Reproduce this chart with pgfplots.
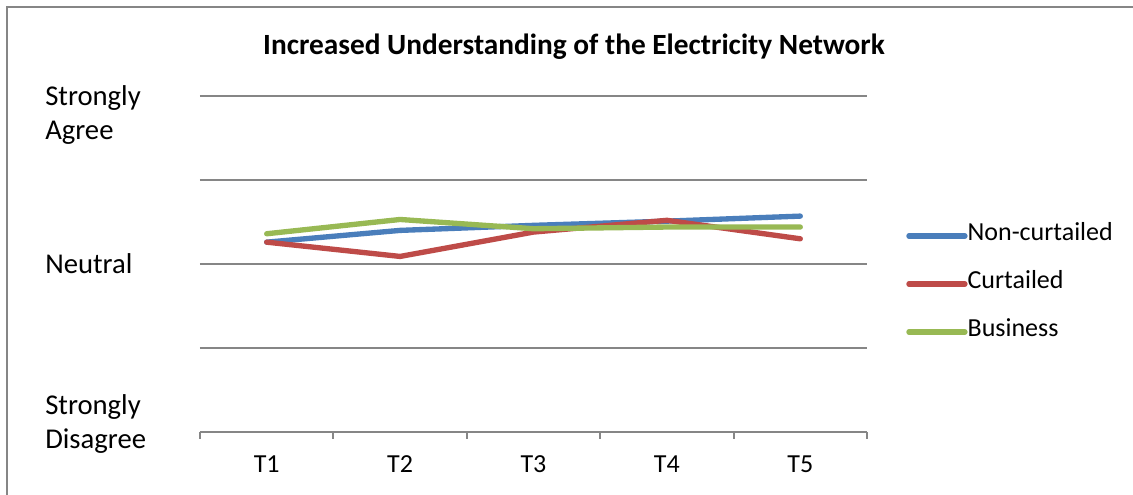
\documentclass[border=0pt]{standalone}
\usepackage{pgfplots}
\pgfplotsset{compat=1.18}
\usepackage{fontspec}
\setmainfont{Carlito}
\definecolor{cblue}{HTML}{4A7EBB}
\definecolor{cred}{HTML}{BE4B48}
\definecolor{cgreen}{HTML}{98B954}
\definecolor{cgrid}{RGB}{134,134,134}
\begin{document}
\begin{tikzpicture}
\useasboundingbox (0pt,0pt) rectangle (849.75pt,371.25pt);
\draw[cgrid, line width=1.5pt] (5.25pt,-5pt) -- (5.25pt,366pt) -- (860pt,366pt);
\node[font=\bfseries\fontsize{22}{26}\selectfont, inner sep=0pt] at (430.5pt,336pt) {Increased Understanding of the Electricity Network};
\begin{axis}[
  at={(150pt,47.25pt)}, anchor=south west,
  scale only axis, width=500.25pt, height=252pt,
  xmin=0.5, xmax=5.5, ymin=1, ymax=5,
  axis x line*=bottom, axis y line*=left,
  x axis line style={cgrid, line width=1.5pt},
  y axis line style={draw=none},
  xtick={1,2,3,4,5},
  xticklabels={T1,T2,T3,T4,T5},
  minor xtick={0.5,1.5,2.5,3.5,4.5,5.5},
  tick align=outside,
  major tick length=0pt,
  minor tick length=5.25pt,
  minor tick style={cgrid, line width=1.5pt},
  xticklabel style={font=\fontsize{19.5}{22}\selectfont, inner sep=0pt, anchor=north, yshift=-17.5pt},
  ytick={1.1,3,4.77},
  yticklabels={{Strongly\\Disagree},{Neutral},{Strongly\\Agree}},
  yticklabel style={font=\fontsize{21.5}{25.5}\selectfont, align=left, anchor=west, inner sep=0pt, xshift=-116.25pt},
  extra y ticks={2,3,4,5},
  extra y tick labels={},
  extra y tick style={grid=major, major tick length=0pt},
  major grid style={cgrid, line width=1.5pt},
  clip=false,
  legend style={at={(1.0585,0.4464)}, anchor=west, draw=none, fill=none, inner sep=0pt,
    font=\fontsize{19.5}{22}\selectfont, row sep=18pt, column sep=0pt,
    nodes={inner sep=0pt, text height=14pt, text depth=4pt, anchor=west}},
  legend cell align=left,
  legend image code/.code={\draw[#1, line width=4pt, line cap=round] (0pt,-1.5pt) -- (42pt,-1.5pt);},
  every axis plot/.append style={line width=4pt, line join=round, line cap=round, mark=none},
]
\addplot[cblue] coordinates {(1,3.26) (2,3.40) (3,3.46) (4,3.51) (5,3.57)};
\addlegendentry{Non-curtailed}
\addplot[cred] coordinates {(1,3.26) (2,3.09) (3,3.38) (4,3.52) (5,3.30)};
\addlegendentry{Curtailed}
\addplot[cgreen] coordinates {(1,3.36) (2,3.53) (3,3.42) (4,3.44) (5,3.44)};
\addlegendentry{Business}
\end{axis}
\end{tikzpicture}
\end{document}
